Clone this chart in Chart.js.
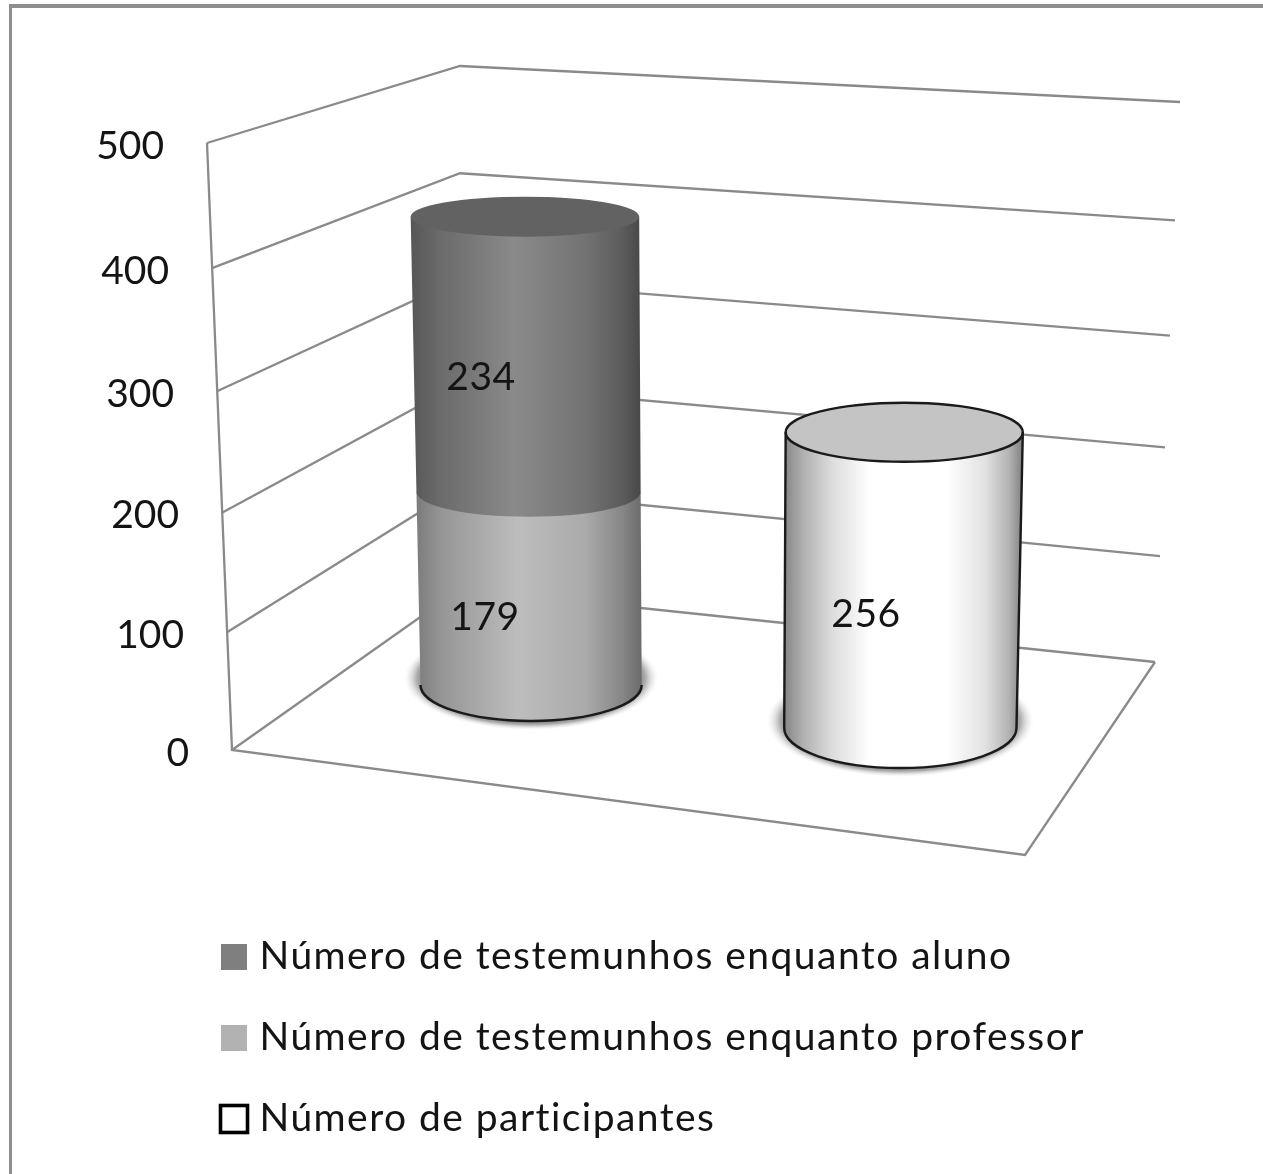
<!DOCTYPE html>
<html>
<head>
<meta charset="utf-8">
<style>
html,body{margin:0;padding:0;background:#fff;overflow:hidden}
#wrap{position:relative;width:1263px;height:1174px;overflow:hidden}
#c{display:block;filter:blur(0.65px)}
#frame{position:absolute;left:9px;top:4px;right:0;bottom:0;border-left:3.5px solid #8e8e8e;border-top:4px solid #8e8e8e;filter:blur(0.4px);pointer-events:none}
</style>
<script src="https://cdn.jsdelivr.net/npm/chart.js@4"></script>
</head>
<body>
<div id="wrap"><canvas id="c" width="1263" height="1174"></canvas><div id="frame"></div></div>
<script>
// ---- data ----
const categories = ['Professores', 'Participantes'];
const seriesProfessor = [179, null];
const seriesAluno = [234, null];
const seriesParticipantes = [null, 256];
const nameAluno = 'Número de testemunhos enquanto aluno';
const nameProfessor = 'Número de testemunhos enquanto professor';
const nameParticipantes = 'Número de participantes';
const legendOrder = [nameAluno, nameProfessor, nameParticipantes];
const axisMax = 500;
const axisStep = 100;

// ---- style ----
const FONT = 'Lato, Calibri, sans-serif';
const INK = '#141414';
const WALL = '#8a8a8a';
const looks = {
  [nameProfessor]: {
    stops: [[0,'#7c7c7c'],[0.12,'#979797'],[0.45,'#bdbdbd'],[0.75,'#aaaaaa'],[0.92,'#858585'],[1,'#6a6a6a']],
    capBase: 36, capTop: 25, rimBase: '#1a1a1a', shadow: true, label: [-43, 28.5]
  },
  [nameAluno]: {
    stops: [[0,'#565656'],[0.12,'#6a6a6a'],[0.45,'#8a8a8a'],[0.75,'#747474'],[0.92,'#5c5c5c'],[1,'#484848']],
    capBase: 25, capTop: 20, capFill: '#626262', label: [-47, 23.5]
  },
  [nameParticipantes]: {
    stops: [[0,'#858585'],[0.08,'#b0b0b0'],[0.2,'#dcdcdc'],[0.36,'#ffffff'],[0.68,'#ffffff'],[0.84,'#e2e2e2'],[0.94,'#b4b4b4'],[1,'#808080']],
    capBase: 40, capTop: 29.5, capFill: '#c4c4c4', rimBase: '#1a1a1a', rimAll: '#1a1a1a', shadow: true, label: [-38, 34]
  }
};
const wall = { frontX: [232, 207], backX: 460, endX: [1155, 1180], floorCorner: [1025, 855] };
const convergence = 7e-5, convergenceRef = 450;

class ProjectedScale extends Chart.LinearScale {
  static id = 'projected';
  static defaults = Chart.LinearScale.defaults;
  getPixelForValue(v) {
    const o = this.options, t = v / o.max;
    return o.pixelAt0 + (o.pixelAtMax - o.pixelAt0) * (t * (1 + o.bend) / (1 + o.bend * t));
  }
  _computeLabelArea() { return undefined; }
  _computeLabelItems(area) {
    const items = super._computeLabelItems(area);
    items.forEach(it => {
      const v = Number(it.label);
      const t = v / this.options.max;
      it.options.translation[0] = wall.frontX[0] + (wall.frontX[1] - wall.frontX[0]) * t - 43;
      it.options.translation[1] = this.getPixelForValue(v) + 3;
    });
    return items;
  }
}
Chart.register(ProjectedScale);

function hiddenScale(p0, p1, bend) {
  return { type: 'projected', display: false, min: 0, max: axisMax, stacked: true, pixelAt0: p0, pixelAtMax: p1, bend: bend };
}

const wallPlugin = {
  id: 'wall',
  beforeDatasetsDraw(chart) {
    const { ctx, scales } = chart;
    const F = scales.y, B = scales.yBack, E = scales.yEnd;
    ctx.save();
    ctx.strokeStyle = WALL; ctx.lineWidth = 2.3; ctx.lineJoin = 'miter';
    const fx = v => wall.frontX[0] + (wall.frontX[1] - wall.frontX[0]) * v / axisMax;
    const ex = v => wall.endX[0] + (wall.endX[1] - wall.endX[0]) * v / axisMax;
    F.ticks.forEach(t => {
      const v = t.value;
      ctx.beginPath();
      ctx.moveTo(fx(v), F.getPixelForValue(v));
      ctx.lineTo(wall.backX, B.getPixelForValue(v));
      ctx.lineTo(ex(v), E.getPixelForValue(v));
      ctx.stroke();
    });
    ctx.beginPath();
    ctx.moveTo(fx(axisMax), F.getPixelForValue(axisMax));
    ctx.lineTo(fx(0), F.getPixelForValue(0));
    ctx.lineTo(wall.floorCorner[0], wall.floorCorner[1]);
    ctx.lineTo(ex(0), E.getPixelForValue(0));
    ctx.stroke();
    ctx.restore();
  }
};

function persp(chart, x, y) {
  const mid = (chart.chartArea.left + chart.chartArea.right) / 2;
  return mid + (x - mid) * (1 - (y - convergenceRef) * convergence);
}

function drawCylinder(chart, el, look) {
  const ctx = chart.ctx;
  const y0 = el.base, y1 = el.y, w = el.width, x = el.x;
  const l0 = persp(chart, x - w / 2, y0), r0 = persp(chart, x + w / 2, y0);
  const l1 = persp(chart, x - w / 2, y1), r1 = persp(chart, x + w / 2, y1);
  const c0 = (l0 + r0) / 2, a0 = (r0 - l0) / 2, c1 = (l1 + r1) / 2, a1 = (r1 - l1) / 2;
  ctx.save();
  if (look.shadow) {
    const R = a0 * 1.15;
    ctx.save();
    ctx.translate(c0, y0 - 7);
    ctx.scale(1, (look.capBase + 16) / R);
    const g = ctx.createRadialGradient(0, 0, R * 0.8, 0, 0, R);
    g.addColorStop(0, 'rgba(70,70,70,0.9)');
    g.addColorStop(0.5, 'rgba(120,120,120,0.6)');
    g.addColorStop(1, 'rgba(225,225,225,0)');
    ctx.fillStyle = g;
    ctx.beginPath(); ctx.arc(0, 0, R, 0, Math.PI * 2); ctx.fill();
    ctx.restore();
  }
  const g = ctx.createLinearGradient(Math.min(l0, l1), 0, Math.max(r0, r1), 0);
  look.stops.forEach(s => g.addColorStop(s[0], s[1]));
  ctx.beginPath();
  ctx.moveTo(l1, y1);
  ctx.lineTo(l0, y0);
  ctx.ellipse(c0, y0, a0, look.capBase, 0, Math.PI, 0, true);
  ctx.lineTo(r1, y1);
  ctx.closePath();
  ctx.fillStyle = g; ctx.fill();
  if (look.rimBase) {
    ctx.strokeStyle = look.rimBase; ctx.lineWidth = 2.4;
    ctx.beginPath(); ctx.ellipse(c0, y0, a0, look.capBase, 0, Math.PI, 0, true); ctx.stroke();
  }
  if (look.capFill) {
    ctx.beginPath(); ctx.ellipse(c1, y1, a1, look.capTop, 0, 0, Math.PI * 2);
    ctx.fillStyle = look.capFill; ctx.fill();
  }
  if (look.rimAll) {
    ctx.strokeStyle = look.rimAll; ctx.lineWidth = 2.4;
    ctx.beginPath(); ctx.ellipse(c1, y1, a1, look.capTop, 0, 0, Math.PI * 2); ctx.stroke();
    ctx.beginPath(); ctx.moveTo(l1, y1); ctx.lineTo(l0, y0); ctx.moveTo(r1, y1); ctx.lineTo(r0, y0); ctx.stroke();
  }
  ctx.restore();
}

const cylinderPlugin = {
  id: 'cylinder',
  beforeDatasetDraw() { return false; },
  afterDatasetsDraw(chart) {
    const ctx = chart.ctx;
    chart.data.datasets.forEach((ds, i) => {
      const meta = chart.getDatasetMeta(i);
      meta.data.forEach((el, j) => { if (ds.data[j] != null) drawCylinder(chart, el, looks[ds.label]); });
    });
    ctx.save();
    ctx.letterSpacing = '0.5px';
    ctx.fillStyle = INK; ctx.font = '39px ' + FONT;
    ctx.textAlign = 'center'; ctx.textBaseline = 'middle';
    chart.data.datasets.forEach((ds, i) => {
      const meta = chart.getDatasetMeta(i), look = looks[ds.label];
      meta.data.forEach((el, j) => {
        if (ds.data[j] == null) return;
        ctx.fillText(String(ds.data[j]), el.x + look.label[0], (el.y + el.base) / 2 + look.label[1]);
      });
    });
    ctx.restore();
  }
};

const swatchPlugin = {
  id: 'swatches',
  beforeDraw(chart) {
    const lg = chart.legend;
    if (lg && !lg._spaced) {
      const draw = lg.draw;
      lg.draw = function () {
        chart.ctx.save();
        chart.ctx.letterSpacing = '1.45px';
        draw.call(lg);
        chart.ctx.restore();
      };
      lg._spaced = true;
    }
  },
  afterDraw(chart) {
    const ctx = chart.ctx, lg = chart.legend;
    if (!lg || !lg.legendHitBoxes) return;
    ctx.save();
    lg.legendItems.forEach((it, i) => {
      const h = lg.legendHitBoxes[i], size = 27, left = h.left - 4;
      const top = h.top + h.height / 2 - size / 2;
      ctx.fillStyle = '#ffffff';
      ctx.fillRect(left - 3, top - 2, size + 5, size + 4);
      if (it.text === nameParticipantes) {
        ctx.strokeStyle = '#000'; ctx.lineWidth = 3.6;
        ctx.strokeRect(left + 0.5, top + 0.5, size, size);
      } else {
        ctx.fillStyle = it.fillStyle;
        ctx.fillRect(left + 1, top + 1, size - 1, size - 1);
      }
    });
    ctx.restore();
  }
};

new Chart(document.getElementById('c'), {
  type: 'bar',
  data: {
    labels: categories,
    datasets: [
      { label: nameProfessor, data: seriesProfessor, yAxisID: 'yCylA', stack: 's', barPercentage: 0.598, categoryPercentage: 1, backgroundColor: '#b2b2b2' },
      { label: nameAluno, data: seriesAluno, yAxisID: 'yCylA', stack: 's', barPercentage: 0.598, categoryPercentage: 1, backgroundColor: '#7f7f7f' },
      { label: nameParticipantes, data: seriesParticipantes, yAxisID: 'yCylB', stack: 's', barPercentage: 0.63, categoryPercentage: 1, backgroundColor: '#ffffff', borderColor: '#000000', borderWidth: 2 }
    ]
  },
  options: {
    responsive: false,
    animation: false,
    layout: { padding: { left: 182, right: 171, top: 20, bottom: 26 } },
    scales: {
      x: { stacked: true, display: false },
      y: {
        type: 'projected', position: 'left', min: 0, max: axisMax, pixelAt0: 750, pixelAtMax: 143, bend: -0.037,
        grid: { display: false, drawTicks: false }, border: { display: false },
        afterFit(s) { s.width = 158; },
        ticks: { stepSize: axisStep, autoSkip: false, color: INK, font: { family: FONT, size: 39 } }
      },
      yBack: hiddenScale(589, 66, -0.031),
      yEnd: hiddenScale(662, 102, -0.068),
      yCylA: hiddenScale(685, 107, -0.1),
      yCylB: hiddenScale(728, 119, -0.1)
    },
    plugins: {
      tooltip: { enabled: false },
      title: { display: false },
      legend: {
        position: 'bottom',
        align: 'start',
        labels: {
          color: INK,
          font: { family: FONT, size: 39 },
          boxWidth: 16, boxHeight: 16,
          padding: 42,
          sort: (a, b) => legendOrder.indexOf(a.text) - legendOrder.indexOf(b.text)
        }
      }
    }
  },
  plugins: [wallPlugin, cylinderPlugin, swatchPlugin]
});
</script>
</body>
</html>
